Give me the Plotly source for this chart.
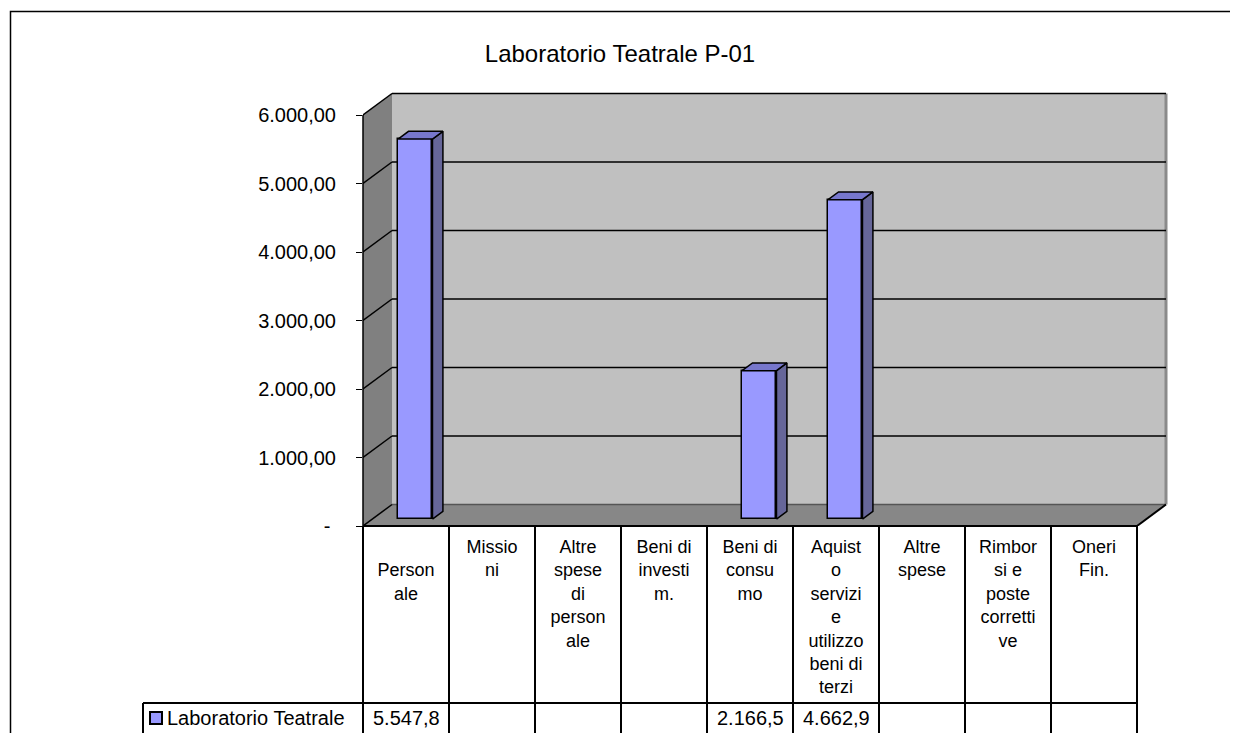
import plotly.graph_objects as go

# ---------------- data ----------------
title_text = "Laboratorio Teatrale P-01"
series_name = "Laboratorio Teatrale"
categories = [
    "Personale", "Missioni", "Altre spese di personale", "Beni di investim.",
    "Beni di consumo", "Aquisto servizi e utilizzo beni di terzi", "Altre spese",
    "Rimborsi e poste correttive", "Oneri Fin.",
]
category_labels = [
    "<br>Person<br>ale", "Missio<br>ni", "Altre<br>spese<br>di<br>person<br>ale",
    "Beni di<br>investi<br>m.", "Beni di<br>consu<br>mo",
    "Aquist<br>o<br>servizi<br>e<br>utilizzo<br>beni di<br>terzi",
    "Altre<br>spese", "Rimbor<br>si e<br>poste<br>corretti<br>ve", "Oneri<br>Fin.",
]
values = [5547.8, None, None, None, 2166.5, 4662.9, None, None, None]
y_tick_values = [0, 1000, 2000, 3000, 4000, 5000, 6000]
y_tick_labels = ["-\u00a0", "1.000,00", "2.000,00", "3.000,00", "4.000,00", "5.000,00", "6.000,00"]


def it_fmt(v):
    if v is None:
        return ""
    return f"{v:,.1f}".replace(",", "X").replace(".", ",").replace("X", ".")


value_labels = [it_fmt(v) for v in values]

# ---------------- geometry / style ----------------
OFF = 8                      # page body margin
FIG_W, FIG_H = 1230, 725
M_L = 363 - OFF
M_T = 88 - OFF
M_B = FIG_H - (526 - OFF)
M_R = FIG_W - (1172 - OFF)
PLOT_W = FIG_W - M_L - M_R
PLOT_H = FIG_H - M_T - M_B
COL_PX = 86.0
UNIT_PX = 411.0 / 6000.0
X_RANGE = [-0.5, -0.5 + PLOT_W / COL_PX]
Y_RANGE = [0, PLOT_H / UNIT_PX]
DX = 29.0 / COL_PX          # depth offset (x units)
DY = 21.5 / UNIT_PX         # depth offset (y units)
F0, F1 = 0.32, 0.68         # bar depth position
BAR_W = 0.40
N = len(categories)
Y_TOP = y_tick_values[-1]

FONT = "Liberation Sans, Arial, sans-serif"
BAR_FRONT = "#9999FF"
BAR_SIDE = "#666699"
BAR_TOP = "#7777CC"
WALL_BACK = "#C0C0C0"
WALL_SIDE = "#808080"
FLOOR = "#878787"


def px_x(p):
    return (p - OFF - M_L) / PLOT_W


def px_y(p):
    return (FIG_H - M_B - (p - OFF)) / PLOT_H


def dx_paper(xv):
    return (xv - X_RANGE[0]) / (X_RANGE[1] - X_RANGE[0])


def dy_paper(yv):
    return (yv - Y_RANGE[0]) / (Y_RANGE[1] - Y_RANGE[0])


fig = go.Figure()

# front faces of the bars
idx = [i for i, v in enumerate(values) if v is not None]
fig.add_trace(go.Bar(
    x=idx, y=[values[i] for i in idx], base=F0 * DY,
    width=BAR_W, offset=-BAR_W / 2 + F0 * DX,
    marker=dict(color=BAR_FRONT, line=dict(color="black", width=1.5)),
    name=series_name, showlegend=False, hoverinfo="skip",
))

# side and top faces
for i in idx:
    v = values[i]
    xl0 = i - BAR_W / 2 + F0 * DX
    xr0 = i + BAR_W / 2 + F0 * DX
    xl1 = i - BAR_W / 2 + F1 * DX
    xr1 = i + BAR_W / 2 + F1 * DX
    fig.add_trace(go.Scatter(
        x=[xr0, xr1, xr1, xr0, xr0],
        y=[F0 * DY, F1 * DY, v + F1 * DY, v + F0 * DY, F0 * DY],
        mode="lines", fill="toself", fillcolor=BAR_SIDE,
        line=dict(color="black", width=1.5), showlegend=False, hoverinfo="skip",
    ))
    fig.add_trace(go.Scatter(
        x=[xl0, xr0, xr1, xl1, xl0],
        y=[v + F0 * DY, v + F0 * DY, v + F1 * DY, v + F1 * DY, v + F0 * DY],
        mode="lines", fill="toself", fillcolor=BAR_TOP,
        line=dict(color="black", width=1.5), showlegend=False, hoverinfo="skip",
    ))

shapes = []
XL, XR = -0.5, N - 0.5
# back wall
shapes.append(dict(type="rect", xref="x", yref="y", x0=XL + DX, x1=XR + DX, y0=DY, y1=Y_TOP + DY,
                   fillcolor=WALL_BACK, line=dict(width=0), layer="below"))
# side wall
shapes.append(dict(type="path", xref="x", yref="y",
                   path=f"M{XL},0 L{XL},{Y_TOP} L{XL + DX},{Y_TOP + DY} L{XL + DX},{DY} Z",
                   fillcolor=WALL_SIDE, line=dict(width=0), layer="below"))
# floor
shapes.append(dict(type="path", xref="x", yref="y",
                   path=f"M{XL},0 L{XR},0 L{XR + DX},{DY} L{XL + DX},{DY} Z",
                   fillcolor=FLOOR, line=dict(width=0), layer="below"))
# back wall right edge
shapes.append(dict(type="line", xref="x", yref="y", x0=XR + DX, x1=XR + DX, y0=DY, y1=Y_TOP + DY,
                   line=dict(color="#8A8A8A", width=3), layer="below"))
# floor back edge
shapes.append(dict(type="line", xref="x", yref="y", x0=XL + DX, x1=XR + DX, y0=DY, y1=DY,
                   line=dict(color="#555555", width=1.5), layer="below"))
# gridlines (back wall + side wall) and top edges
for v in y_tick_values[1:]:
    shapes.append(dict(type="line", xref="x", yref="y", x0=XL + DX, x1=XR + DX, y0=v + DY, y1=v + DY,
                       line=dict(color="black", width=1.5), layer="below"))
    shapes.append(dict(type="line", xref="x", yref="y", x0=XL, x1=XL + DX, y0=v, y1=v + DY,
                       line=dict(color="black", width=1.5), layer="below"))
# floor diagonals
shapes.append(dict(type="line", xref="x", yref="y", x0=XL, x1=XL + DX, y0=0, y1=DY,
                   line=dict(color="black", width=1.5), layer="below"))
shapes.append(dict(type="line", xref="x", yref="y", x0=XR, x1=XR + DX, y0=0, y1=DY,
                   line=dict(color="black", width=2), layer="below"))
# front axis line (paper refs so it is not clipped)
shapes.append(dict(type="line", xref="paper", yref="paper", x0=dx_paper(XL), x1=dx_paper(XL),
                   y0=0, y1=dy_paper(Y_TOP), line=dict(color="black", width=1.5)))

# ---- data table ----
TABLE_BOTTOM = px_y(745)
ROW_LINE = px_y(703)
LEG_LEFT = px_x(143)
shapes.append(dict(type="line", xref="paper", yref="paper", x0=dx_paper(XL), x1=dx_paper(XR),
                   y0=0, y1=0, line=dict(color="black", width=2)))
for k in range(N + 1):
    xp = dx_paper(XL + k)
    shapes.append(dict(type="line", xref="paper", yref="paper", x0=xp, x1=xp, y0=0, y1=TABLE_BOTTOM,
                       line=dict(color="black", width=2)))
shapes.append(dict(type="line", xref="paper", yref="paper", x0=LEG_LEFT, x1=dx_paper(XR),
                   y0=ROW_LINE, y1=ROW_LINE, line=dict(color="black", width=2)))
shapes.append(dict(type="line", xref="paper", yref="paper", x0=LEG_LEFT, x1=LEG_LEFT,
                   y0=ROW_LINE, y1=TABLE_BOTTOM, line=dict(color="black", width=2)))
# legend key
shapes.append(dict(type="rect", xref="paper", yref="paper", x0=px_x(150), x1=px_x(162),
                   y0=px_y(724), y1=px_y(712), fillcolor=BAR_FRONT, line=dict(color="black", width=2)))
# outer chart border
shapes.append(dict(type="rect", xref="paper", yref="paper", x0=px_x(10.5), x1=px_x(1260),
                   y0=px_y(760), y1=px_y(11.5), line=dict(color="black", width=1.5)))

annotations = []
VAL_Y = px_y(718)
for i, t in enumerate(value_labels):
    if t:
        annotations.append(dict(x=i, xref="x", y=VAL_Y, yref="paper", text=t, showarrow=False,
                                xanchor="center", yanchor="middle",
                                font=dict(family=FONT, size=20, color="black")))
annotations.append(dict(x=px_x(165), xref="paper", y=VAL_Y, yref="paper", text=series_name,
                        showarrow=False, xanchor="left", yanchor="middle",
                        font=dict(family=FONT, size=20, color="black")))

fig.update_layout(
    width=FIG_W, height=FIG_H,
    margin=dict(l=M_L, r=M_R, t=M_T, b=M_B, pad=0),
    paper_bgcolor="white", plot_bgcolor="white",
    title=dict(text=title_text, x=(620 - OFF) / FIG_W, xref="container", xanchor="center",
               y=1 - (54 - OFF) / FIG_H, yref="container", yanchor="middle",
               font=dict(family=FONT, size=24, color="black")),
    xaxis=dict(range=X_RANGE, tickvals=list(range(N)), ticktext=category_labels,
               showgrid=False, zeroline=False, showline=False, ticks="", tickangle=0,
               ticklabelstandoff=8, automargin=False,
               tickfont=dict(family=FONT, size=18, color="black"), fixedrange=True),
    yaxis=dict(range=Y_RANGE, tickvals=y_tick_values, ticktext=y_tick_labels,
               showgrid=False, zeroline=False, showline=False, ticks="outside", ticklen=6,
               tickwidth=1, tickcolor="black", ticklabelstandoff=16, automargin=False,
               tickfont=dict(family=FONT, size=20, color="black"), fixedrange=True),
    shapes=shapes, annotations=annotations, showlegend=False, bargap=0,
)

fig.write_html("out.html")
